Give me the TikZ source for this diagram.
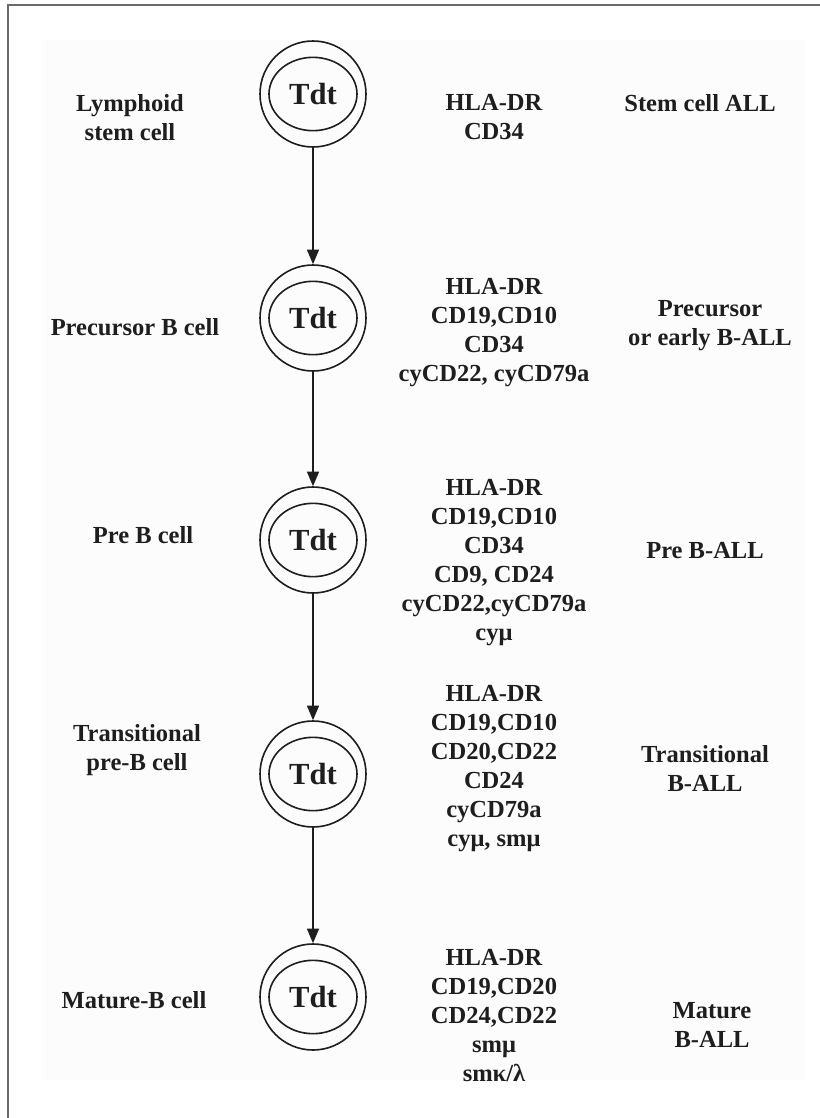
\documentclass[tikz,border=0pt]{standalone}
\usepackage{fontspec}
\setmainfont{Liberation Serif}
\usetikzlibrary{arrows.meta,shapes.geometric}
\definecolor{framegray}{HTML}{6A6A6A}
\definecolor{ink}{HTML}{1E1E1E}
\definecolor{bgfaint}{HTML}{FCFCFC}
\tikzset{
  lbl/.style={align=center, inner sep=0pt, text=ink,
    font=\bfseries\fontsize{18.4}{21.75}\selectfont},
  cellouter/.style={circle, draw=ink, line width=1.2pt, minimum size=79.5pt, inner sep=0pt},
  cellinner/.style={ellipse, draw=ink, line width=1.2pt, minimum width=66pt, minimum height=55pt,
    inner sep=0pt, text=ink, font=\bfseries\fontsize{23}{27}\selectfont},
  arr/.style={draw=ink, line width=1.2pt, -{Triangle[width=9pt,length=11pt]}},
  framel/.style={draw=framegray, line width=1.5pt}
}
\begin{document}
\begin{tikzpicture}[x=0.75pt,y=-0.75pt]
\useasboundingbox (0,0) rectangle (820,1118);
\fill[bgfaint] (42,40) rectangle (805,1080);
\draw[framel] (8,1118) -- (8,5) -- (820,5);

% cells
\foreach \i/\y in {1/94,2/318,3/540,4/774,5/997}{
  \node[cellouter] (c\i) at (313,\y) {};
  \node[cellinner] (e\i) at (313,\y) {Tdt};
}
\draw[arr] (c1) -- (c2);
\draw[arr] (c2) -- (c3);
\draw[arr] (c3) -- (c4);
\draw[arr] (c4) -- (c5);

% left labels
\node[lbl] (l1) at (130,118) {Lymphoid\\stem cell};
\node[lbl] (l2) at (135,327) {Precursor B cell};
\node[lbl] (l3) at (143,535) {Pre B cell};
\node[lbl] (l4) at (137,750) {Transitional\\pre-B cell};
\node[lbl] (l5) at (134,1000) {Mature-B cell};

% markers
\node[lbl] (m1) at (494,117) {HLA-DR\\CD34};
\node[lbl] (m2) at (494,333) {HLA-DR\\CD19,CD10\\CD34\\cyCD22, cyCD79a};
\node[lbl] (m3) at (494,563) {HLA-DR\\CD19,CD10\\CD34\\CD9, CD24\\cyCD22,cyCD79a\\cyμ};
\node[lbl] (m4) at (494,769) {HLA-DR\\CD19,CD10\\CD20,CD22\\CD24\\cyCD79a\\cyμ, smμ};
\begin{scope}
\clip (0,0) rectangle (820,1081);
\node[lbl] (m5) at (494,1016) {HLA-DR\\CD19,CD20\\CD24,CD22\\smμ\\smκ/λ};
\end{scope}

% right labels
\node[lbl] (r1) at (700,103) {Stem cell ALL};
\node[lbl] (r2) at (710,326) {Precursor\\or early B-ALL};
\node[lbl] (r3) at (705,551) {Pre B-ALL};
\node[lbl] (r4) at (705,769) {Transitional\\B-ALL};
\node[lbl] (r5) at (712,1025) {Mature\\B-ALL};
\end{tikzpicture}
\end{document}
